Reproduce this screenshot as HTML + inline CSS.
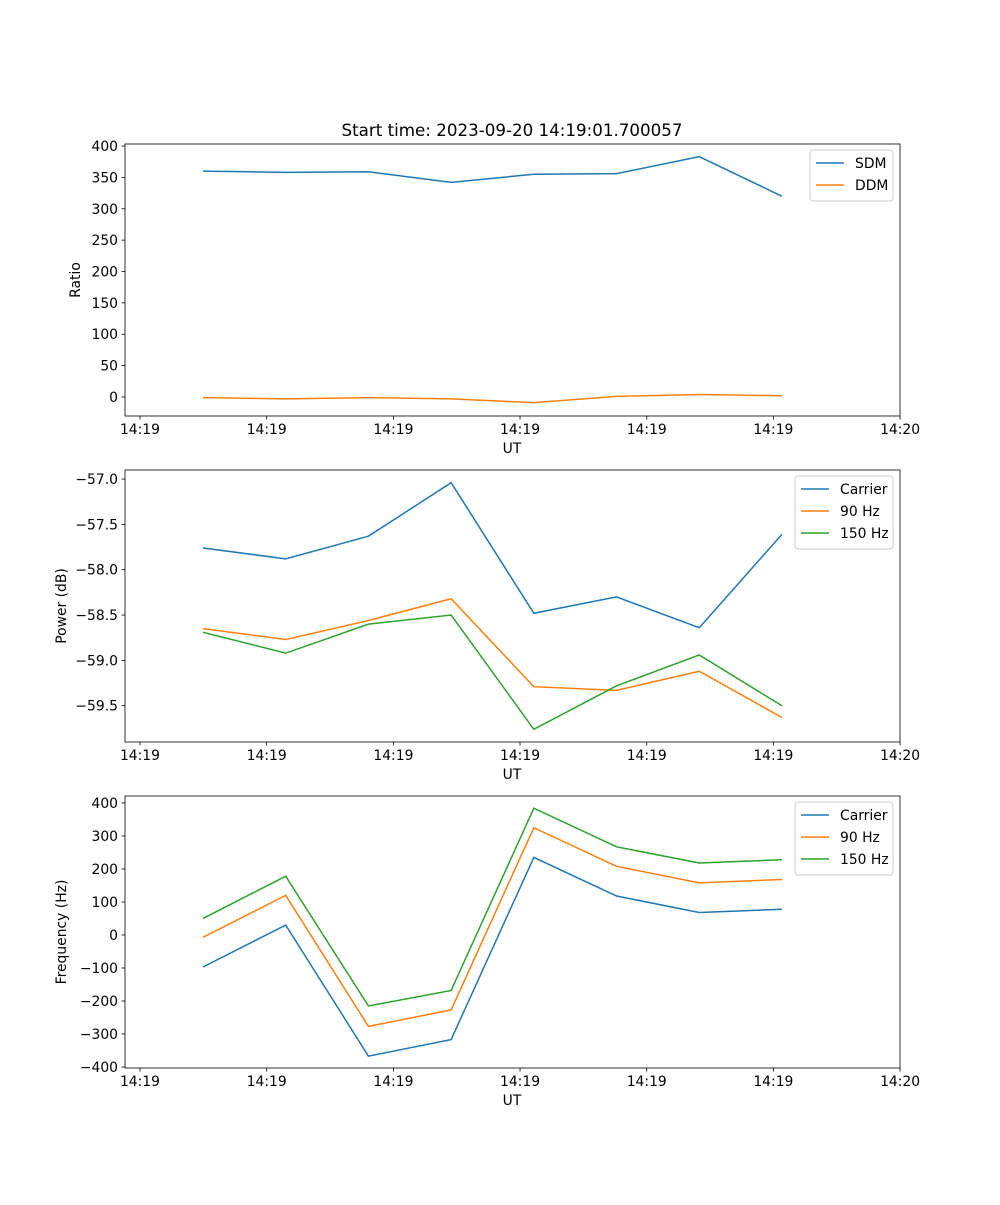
<!DOCTYPE html>
<html><head><meta charset="utf-8"><style>body{margin:0;background:#fff}svg text{font-family:"DejaVu Sans","Liberation Sans",sans-serif;font-size:13.9px;fill:#000}</style></head>
<body>
<svg id="fig" width="1000" height="1200"></svg>
<script>
const categories=[0,1,2,3,4,5,6,7];
const xTickPos=[-0.762,0.770,2.302,3.833,5.365,6.896,8.428];
const xTickLabels=["14:19","14:19","14:19","14:19","14:19","14:19","14:20"];
const sdm=[360,358,359,342,355,356,383,320];
const ddm=[-1,-3,-1,-3,-9,1,4,2];
const pwrCarrier=[-57.76,-57.88,-57.63,-57.04,-58.48,-58.30,-58.64,-57.61];
const pwr90=[-58.65,-58.77,-58.56,-58.32,-59.29,-59.33,-59.12,-59.63];
const pwr150=[-58.69,-58.92,-58.60,-58.50,-59.76,-59.28,-58.94,-59.50];
const frqCarrier=[-97,30,-367,-317,235,118,68,78];
const frq90=[-7,120,-277,-227,325,208,158,168];
const frq150=[50,178,-215,-168,384,267,218,228];
const ticks1=[0,50,100,150,200,250,300,350,400];
const ticks2=[-59.5,-59.0,-58.5,-58.0,-57.5,-57.0];
const ticks3=[-400,-300,-200,-100,0,100,200,300,400];
const C=["#1f77b4","#ff7f0e","#2ca02c"];
const NS="http://www.w3.org/2000/svg";const svg=document.getElementById('fig');
function el(t,a,p){const e=document.createElementNS(NS,t);for(const k in a)e.setAttribute(k,a[k]);(p||svg).appendChild(e);return e;}
const X0=125,X1=900,I0=-0.943,I1=8.427;
const xs=i=>X0+(i-I0)/(I1-I0)*(X1-X0);
function panel(name,top,bot,ymin,ymax,yt,ylab,series,names,fmt,legW){
 const g=el('g',{});
 const ys=v=>bot-(v-ymin)/(ymax-ymin)*(bot-top);
 series.forEach((s,k)=>{const p=el('polyline',{points:s.map((v,i)=>xs(categories[i])+','+ys(v)).join(' '),fill:'none',stroke:C[k],'stroke-width':1.5},g);
  });
 const fr=el('rect',{x:X0,y:top,width:X1-X0,height:bot-top,fill:'none',stroke:'#000','stroke-width':0.8},g);
 
 xTickPos.forEach((t,i)=>{const x=xs(t);el('line',{x1:x,x2:x,y1:bot,y2:bot+3.5,stroke:'#000','stroke-width':0.8},g);
  const tx=el('text',{x:x,y:bot+18,'text-anchor':'middle'},g);tx.textContent=xTickLabels[i];});
 yt.forEach(v=>{const y=ys(v);el('line',{x1:X0-3.5,x2:X0,y1:y,y2:y,stroke:'#000','stroke-width':0.8},g);
  const tx=el('text',{x:X0-7,y:y+5,'text-anchor':'end'},g);tx.textContent=fmt(v).replace('-','\u2212');});
 const xl=el('text',{x:512,y:bot+37,'text-anchor':'middle'},g);xl.textContent='UT';
 const lx=name==='ratio'?80:(name==='power'?66:66);
 const yl=el('text',{x:0,y:0,'text-anchor':'middle',transform:`translate(${name==='ratio'?80:66},${(top+bot)/2}) rotate(-90)`},g);yl.textContent=ylab;
 const lg=el('g',{},g);
 const lx0=X1-7-legW,h=names.length*22+7;
 el('rect',{x:lx0,y:top+6,width:legW,height:h,rx:3,fill:'#fff',stroke:'#ccc','stroke-width':1},lg);
 names.forEach((n,k)=>{const y=top+19+k*22;el('line',{x1:lx0+6,x2:lx0+34,y1:y,y2:y,stroke:C[k],'stroke-width':1.5},lg);
  const t=el('text',{x:lx0+45,y:y+5},lg);t.textContent=n;});
}
const title=el('text',{x:512,y:136,'text-anchor':'middle','font-size':'16.7px',style:'font-size:16.7px'});title.textContent='Start time: 2023-09-20 14:19:01.700057';


panel('ratio',144,416,-30.3,403.2,ticks1,'Ratio',[sdm,ddm],['SDM','DDM'],v=>String(v),83);
panel('power',470,742,-59.90,-56.90,ticks2,'Power (dB)',[pwrCarrier,pwr90,pwr150],['Carrier','90 Hz','150 Hz'],v=>v.toFixed(1),98);
panel('freq',796,1068,-403,421,ticks3,'Frequency (Hz)',[frqCarrier,frq90,frq150],['Carrier','90 Hz','150 Hz'],v=>String(v),98);
</script>
</body></html>
